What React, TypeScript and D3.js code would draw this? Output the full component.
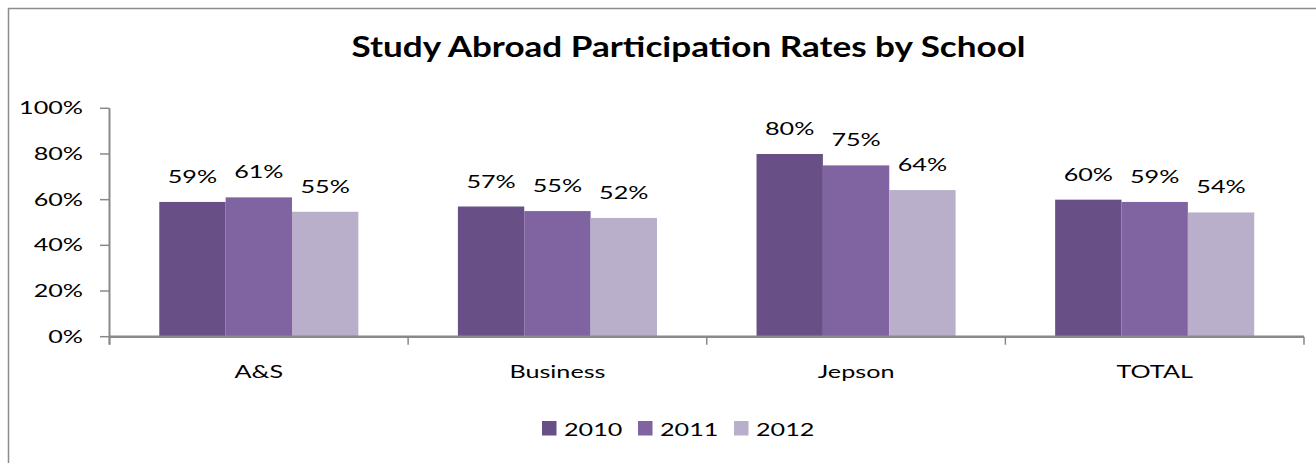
import React from "react";
import * as d3 from "d3";

const categories = ["A&S", "Business", "Jepson", "TOTAL"];
const years = ["2010", "2011", "2012"];
const values2010 = [0.59, 0.57, 0.8, 0.6];
const values2011 = [0.61, 0.55, 0.75, 0.59];
const values2012 = [0.547, 0.52, 0.642, 0.544];
const yTickValues = [0, 0.2, 0.4, 0.6, 0.8, 1.0];
const title = "Study Abroad Participation Rates by School";

const colors = ["#684f86", "#7f64a1", "#b9afcb"];
const series = [values2010, values2011, values2012];

const W = 1316;
const H = 463;
const plot = { left: 109.5, right: 1304, top: 108.3, bottom: 336.7 };
const FONT = "Lato, 'Open Sans', sans-serif";
const FS = 17;
const SX = 1.48;
const TSX = 1.21;
const axisColor = "#898989";

export default function App() {
  const x = d3.scaleBand<string>().domain(categories).range([plot.left, plot.right]).padding(0);
  const x1 = d3
    .scaleBand<string>()
    .domain(years)
    .range([0, x.bandwidth()])
    .paddingInner(0)
    .paddingOuter(0.75);
  const y = d3.scaleLinear().domain([0, 1]).range([plot.bottom, plot.top]);
  const pct = d3.format(".0%");
  const boundaries = [...categories.map((c) => x(c) as number), plot.right];

  return (
    <svg
      width={W}
      height={H}
      style={{ position: "absolute", left: 0, top: 0, background: "#fff" }}
    >
      <rect x={8.5} y={8.5} width={W + 20} height={H + 20} fill="#fff" stroke="#8c8c8c" strokeWidth={1.5} />
      <text
        transform={`translate(${688.5},57) scale(${TSX},1)`}
        textAnchor="middle"
        fontFamily={FONT}
        fontWeight="bold"
        fontSize={29}
        fill="#000"
      >
        {title}
      </text>

      {/* bars */}
      {categories.map((c, ci) =>
        years.map((yr, si) => {
          const v = series[si][ci];
          const bx = (x(c) as number) + (x1(yr) as number);
          return (
            <rect
              key={c + yr}
              x={bx}
              y={y(v)}
              width={x1.bandwidth()}
              height={plot.bottom - y(v)}
              fill={colors[si]}
            />
          );
        })
      )}

      {/* data labels */}
      {categories.map((c, ci) =>
        years.map((yr, si) => {
          const v = series[si][ci];
          const cx = (x(c) as number) + (x1(yr) as number) + x1.bandwidth() / 2;
          return (
            <text
              key={"l" + c + yr}
              transform={`translate(${cx},${y(v) - 19}) scale(${SX},1)`}
              textAnchor="middle"
              fontFamily={FONT}
              fontSize={FS}
              fill="#000"
            >
              {pct(v)}
            </text>
          );
        })
      )}

      {/* y axis */}
      <line x1={plot.left} x2={plot.left} y1={plot.top} y2={plot.bottom + 8} stroke={axisColor} strokeWidth={2} />
      {yTickValues.map((t) => (
        <g key={"yt" + t}>
          <line x1={100} x2={plot.left} y1={y(t)} y2={y(t)} stroke={axisColor} strokeWidth={1.5} />
          <text
            transform={`translate(83,${y(t) + 6}) scale(${SX},1)`}
            textAnchor="end"
            fontFamily={FONT}
            fontSize={FS}
            fill="#000"
          >
            {pct(t)}
          </text>
        </g>
      ))}

      {/* x axis */}
      <line x1={plot.left} x2={plot.right} y1={plot.bottom} y2={plot.bottom} stroke={axisColor} strokeWidth={2.5} />
      {boundaries.map((b, i) => (
        <line key={"xt" + i} x1={b} x2={b} y1={plot.bottom} y2={plot.bottom + 8} stroke={axisColor} strokeWidth={1.5} />
      ))}
      {categories.map((c) => (
        <text
          key={"xl" + c}
          transform={`translate(${(x(c) as number) + x.bandwidth() / 2},378) scale(${SX},1)`}
          textAnchor="middle"
          fontFamily={FONT}
          fontSize={FS}
          fill="#000"
        >
          {c}
        </text>
      ))}

      {/* legend */}
      {years.map((yr, i) => (
        <g key={"lg" + yr} transform={`translate(${542 + i * 96},421)`}>
          <rect x={0} y={0} width={14.5} height={14.5} fill={colors[i]} />
          <text
            transform={`translate(22,15) scale(${SX},1)`}
            fontFamily={FONT}
            fontSize={FS}
            fill="#000"
          >
            {yr}
          </text>
        </g>
      ))}
    </svg>
  );
}
